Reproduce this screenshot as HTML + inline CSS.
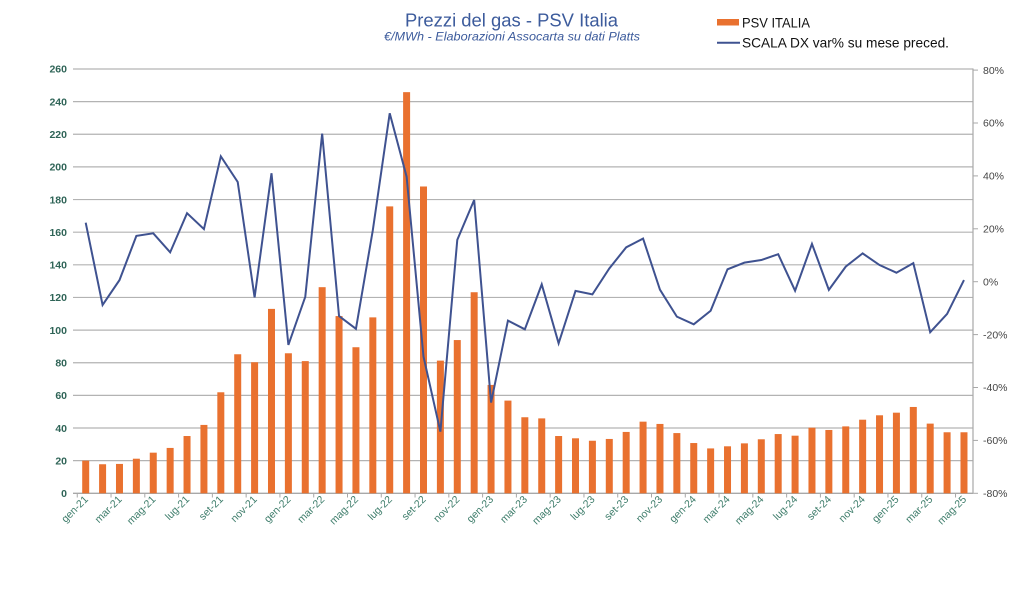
<!DOCTYPE html>
<html><head><meta charset="utf-8"><style>
html,body{margin:0;padding:0;background:#fff;}
svg{display:block;}
</style></head><body>
<svg width="1024" height="595" viewBox="0 0 1024 595" xmlns="http://www.w3.org/2000/svg" font-family="Liberation Sans, sans-serif">
<rect width="1024" height="595" fill="#fff"/>
<!-- title -->
<text x="511.5" y="26.5" text-anchor="middle" font-size="18" fill="#3c5b9c" textLength="213" lengthAdjust="spacingAndGlyphs">Prezzi del gas - PSV Italia</text>
<text x="512" y="40.7" text-anchor="middle" font-size="12" font-style="italic" fill="#3c5b9c" textLength="256" lengthAdjust="spacingAndGlyphs">€/MWh - Elaborazioni Assocarta su dati Platts</text>
<!-- legend -->
<rect x="717" y="19" width="22" height="6.5" fill="#e9712f"/>
<text x="742" y="27.3" font-size="14" fill="#111" textLength="68" lengthAdjust="spacingAndGlyphs">PSV ITALIA</text>
<line x1="717" y1="42.7" x2="740" y2="42.7" stroke="#3f5290" stroke-width="2"/>
<text x="742" y="47.7" font-size="14" fill="#111" textLength="207" lengthAdjust="spacingAndGlyphs">SCALA DX var% su mese preced.</text>
<!-- gridlines -->
<g stroke="#b3b3b3" stroke-width="1.2">
<line x1="73" y1="460.66" x2="973" y2="460.66"/>
<line x1="73" y1="428.02" x2="973" y2="428.02"/>
<line x1="73" y1="395.38" x2="973" y2="395.38"/>
<line x1="73" y1="362.74" x2="973" y2="362.74"/>
<line x1="73" y1="330.1" x2="973" y2="330.1"/>
<line x1="73" y1="297.46" x2="973" y2="297.46"/>
<line x1="73" y1="264.82" x2="973" y2="264.82"/>
<line x1="73" y1="232.18" x2="973" y2="232.18"/>
<line x1="73" y1="199.54" x2="973" y2="199.54"/>
<line x1="73" y1="166.9" x2="973" y2="166.9"/>
<line x1="73" y1="134.26" x2="973" y2="134.26"/>
<line x1="73" y1="101.62" x2="973" y2="101.62"/>
<line x1="73" y1="68.98" x2="973" y2="68.98"/>
</g>
<line x1="73" y1="493.3" x2="973" y2="493.3" stroke="#a8a8a8" stroke-width="1.3"/>
<!-- right axis -->
<line x1="973" y1="68.5" x2="973" y2="493.3" stroke="#a8a8a8" stroke-width="1.2"/>
<g stroke="#a8a8a8" stroke-width="1">
<line x1="973" y1="70.1" x2="978" y2="70.1"/>
<line x1="973" y1="123" x2="978" y2="123"/>
<line x1="973" y1="175.9" x2="978" y2="175.9"/>
<line x1="973" y1="228.8" x2="978" y2="228.8"/>
<line x1="973" y1="281.7" x2="978" y2="281.7"/>
<line x1="973" y1="334.6" x2="978" y2="334.6"/>
<line x1="973" y1="387.5" x2="978" y2="387.5"/>
<line x1="973" y1="440.4" x2="978" y2="440.4"/>
<line x1="973" y1="493.3" x2="978" y2="493.3"/>
</g>
<!-- x ticks -->
<g stroke="#a8a8a8" stroke-width="1">
<line x1="77.25" y1="493" x2="77.25" y2="497.5"/><line x1="111.03" y1="493" x2="111.03" y2="497.5"/><line x1="144.81" y1="493" x2="144.81" y2="497.5"/><line x1="178.59" y1="493" x2="178.59" y2="497.5"/><line x1="212.37" y1="493" x2="212.37" y2="497.5"/><line x1="246.15" y1="493" x2="246.15" y2="497.5"/><line x1="279.93" y1="493" x2="279.93" y2="497.5"/><line x1="313.71" y1="493" x2="313.71" y2="497.5"/><line x1="347.49" y1="493" x2="347.49" y2="497.5"/><line x1="381.27" y1="493" x2="381.27" y2="497.5"/><line x1="415.05" y1="493" x2="415.05" y2="497.5"/><line x1="448.83" y1="493" x2="448.83" y2="497.5"/><line x1="482.61" y1="493" x2="482.61" y2="497.5"/><line x1="516.39" y1="493" x2="516.39" y2="497.5"/><line x1="550.17" y1="493" x2="550.17" y2="497.5"/><line x1="583.95" y1="493" x2="583.95" y2="497.5"/><line x1="617.73" y1="493" x2="617.73" y2="497.5"/><line x1="651.51" y1="493" x2="651.51" y2="497.5"/><line x1="685.29" y1="493" x2="685.29" y2="497.5"/><line x1="719.07" y1="493" x2="719.07" y2="497.5"/><line x1="752.85" y1="493" x2="752.85" y2="497.5"/><line x1="786.63" y1="493" x2="786.63" y2="497.5"/><line x1="820.41" y1="493" x2="820.41" y2="497.5"/><line x1="854.19" y1="493" x2="854.19" y2="497.5"/><line x1="887.97" y1="493" x2="887.97" y2="497.5"/><line x1="921.75" y1="493" x2="921.75" y2="497.5"/><line x1="955.53" y1="493" x2="955.53" y2="497.5"/>
</g>
<!-- bars -->
<g fill="#e9712f" transform="matrix(1,0,0,-1.632,0,493.3)">
<rect x="82.2" y="0" width="7" height="20"/>
<rect x="99.09" y="0" width="7" height="17.8"/>
<rect x="115.98" y="0" width="7" height="18"/>
<rect x="132.87" y="0" width="7" height="21.2"/>
<rect x="149.76" y="0" width="7" height="24.9"/>
<rect x="166.65" y="0" width="7" height="27.8"/>
<rect x="183.54" y="0" width="7" height="35.1"/>
<rect x="200.43" y="0" width="7" height="41.9"/>
<rect x="217.32" y="0" width="7" height="61.9"/>
<rect x="234.21" y="0" width="7" height="85.2"/>
<rect x="251.1" y="0" width="7" height="80.3"/>
<rect x="267.99" y="0" width="7" height="113"/>
<rect x="284.88" y="0" width="7" height="85.8"/>
<rect x="301.77" y="0" width="7" height="81"/>
<rect x="318.66" y="0" width="7" height="126.3"/>
<rect x="335.55" y="0" width="7" height="108.6"/>
<rect x="352.44" y="0" width="7" height="89.5"/>
<rect x="369.33" y="0" width="7" height="107.8"/>
<rect x="386.22" y="0" width="7" height="175.8"/>
<rect x="403.11" y="0" width="7" height="245.8"/>
<rect x="420" y="0" width="7" height="188"/>
<rect x="436.89" y="0" width="7" height="81.3"/>
<rect x="453.78" y="0" width="7" height="93.9"/>
<rect x="470.67" y="0" width="7" height="123.2"/>
<rect x="487.56" y="0" width="7" height="66.4"/>
<rect x="504.45" y="0" width="7" height="56.8"/>
<rect x="521.34" y="0" width="7" height="46.6"/>
<rect x="538.23" y="0" width="7" height="45.9"/>
<rect x="555.12" y="0" width="7" height="35.1"/>
<rect x="572.01" y="0" width="7" height="33.7"/>
<rect x="588.9" y="0" width="7" height="32.2"/>
<rect x="605.79" y="0" width="7" height="33.3"/>
<rect x="622.68" y="0" width="7" height="37.6"/>
<rect x="639.57" y="0" width="7" height="43.9"/>
<rect x="656.46" y="0" width="7" height="42.5"/>
<rect x="673.35" y="0" width="7" height="36.9"/>
<rect x="690.24" y="0" width="7" height="30.8"/>
<rect x="707.13" y="0" width="7" height="27.5"/>
<rect x="724.02" y="0" width="7" height="28.8"/>
<rect x="740.91" y="0" width="7" height="30.6"/>
<rect x="757.8" y="0" width="7" height="33.1"/>
<rect x="774.69" y="0" width="7" height="36.3"/>
<rect x="791.58" y="0" width="7" height="35.3"/>
<rect x="808.47" y="0" width="7" height="40.2"/>
<rect x="825.36" y="0" width="7" height="38.8"/>
<rect x="842.25" y="0" width="7" height="41"/>
<rect x="859.14" y="0" width="7" height="45.1"/>
<rect x="876.03" y="0" width="7" height="47.8"/>
<rect x="892.92" y="0" width="7" height="49.4"/>
<rect x="909.81" y="0" width="7" height="52.9"/>
<rect x="926.7" y="0" width="7" height="42.7"/>
<rect x="943.59" y="0" width="7" height="37.4"/>
<rect x="960.48" y="0" width="7" height="37.4"/>
</g>
<!-- line -->
<g transform="matrix(1,0,0,-2.645,0,281.7)">
<polyline fill="none" stroke="#3f5290" stroke-width="2" stroke-linejoin="miter" vector-effect="non-scaling-stroke" points="85.7,22.3 102.59,-8.8 119.48,0.6 136.37,17.3 153.26,18.3 170.15,11.1 187.04,25.9 203.93,19.9 220.82,47.4 237.71,37.7 254.6,-5.9 271.49,41 288.38,-23.9 305.27,-5.7 322.16,56 339.05,-13 355.94,-17.8 372.83,19.5 389.72,63.7 406.61,39.7 423.5,-28.3 440.39,-56.7 457.28,15.8 474.17,30.9 491.06,-45.7 507.95,-14.7 524.84,-18 541.73,-1 558.62,-23.3 575.51,-3.5 592.4,-4.8 609.29,5 626.18,13 643.07,16.3 659.96,-3 676.85,-13.2 693.74,-16.1 710.63,-11 727.52,4.7 744.41,7.2 761.3,8.2 778.19,10.4 795.08,-3.4 811.97,14.3 828.86,-3.1 845.75,5.7 862.64,10.7 879.53,6.3 896.42,3.4 913.31,7 930.2,-19.1 947.09,-12.2 963.98,0.6"/>
</g>
<!-- left axis labels -->
<g font-size="10.5" font-weight="bold" fill="#2f6457" text-anchor="end">
<text x="67" y="497">0</text>
<text x="67" y="464.4">20</text>
<text x="67" y="431.8">40</text>
<text x="67" y="399.1">60</text>
<text x="67" y="366.5">80</text>
<text x="67" y="333.8">100</text>
<text x="67" y="301.2">120</text>
<text x="67" y="268.6">140</text>
<text x="67" y="235.9">160</text>
<text x="67" y="203.3">180</text>
<text x="67" y="170.6">200</text>
<text x="67" y="138">220</text>
<text x="67" y="105.4">240</text>
<text x="67" y="72.7">260</text>
</g>
<!-- right axis labels -->
<g font-size="10.5" fill="#444">
<text x="983" y="73.8">80%</text>
<text x="983" y="126.7">60%</text>
<text x="983" y="179.6">40%</text>
<text x="983" y="232.5">20%</text>
<text x="983" y="285.4">0%</text>
<text x="983" y="338.3">-20%</text>
<text x="983" y="391.2">-40%</text>
<text x="983" y="444.1">-60%</text>
<text x="983" y="497">-80%</text>
</g>
<!-- x labels -->
<g font-size="10.5" fill="#3e7d6b" text-anchor="end">
<text transform="translate(88.7,500) rotate(-45)">gen-21</text>
<text transform="translate(122.48,500) rotate(-45)">mar-21</text>
<text transform="translate(156.26,500) rotate(-45)">mag-21</text>
<text transform="translate(190.04,500) rotate(-45)">lug-21</text>
<text transform="translate(223.82,500) rotate(-45)">set-21</text>
<text transform="translate(257.6,500) rotate(-45)">nov-21</text>
<text transform="translate(291.38,500) rotate(-45)">gen-22</text>
<text transform="translate(325.16,500) rotate(-45)">mar-22</text>
<text transform="translate(358.94,500) rotate(-45)">mag-22</text>
<text transform="translate(392.72,500) rotate(-45)">lug-22</text>
<text transform="translate(426.5,500) rotate(-45)">set-22</text>
<text transform="translate(460.28,500) rotate(-45)">nov-22</text>
<text transform="translate(494.06,500) rotate(-45)">gen-23</text>
<text transform="translate(527.84,500) rotate(-45)">mar-23</text>
<text transform="translate(561.62,500) rotate(-45)">mag-23</text>
<text transform="translate(595.4,500) rotate(-45)">lug-23</text>
<text transform="translate(629.18,500) rotate(-45)">set-23</text>
<text transform="translate(662.96,500) rotate(-45)">nov-23</text>
<text transform="translate(696.74,500) rotate(-45)">gen-24</text>
<text transform="translate(730.52,500) rotate(-45)">mar-24</text>
<text transform="translate(764.3,500) rotate(-45)">mag-24</text>
<text transform="translate(798.08,500) rotate(-45)">lug-24</text>
<text transform="translate(831.86,500) rotate(-45)">set-24</text>
<text transform="translate(865.64,500) rotate(-45)">nov-24</text>
<text transform="translate(899.42,500) rotate(-45)">gen-25</text>
<text transform="translate(933.2,500) rotate(-45)">mar-25</text>
<text transform="translate(966.98,500) rotate(-45)">mag-25</text>
</g>
</svg>
</body></html>
